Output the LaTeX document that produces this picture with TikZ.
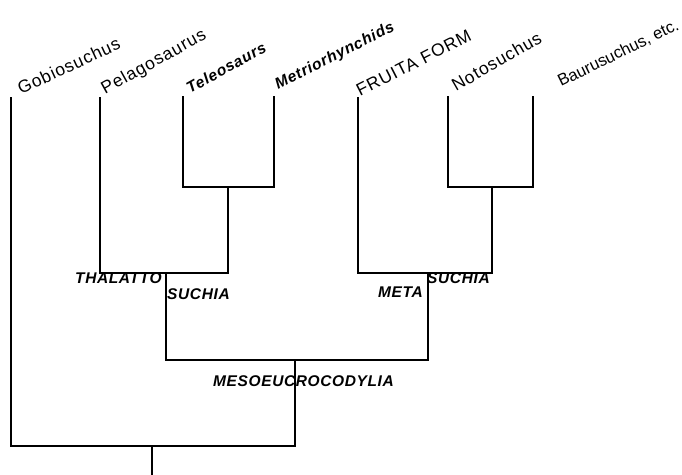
\documentclass[tikz,border=0pt]{standalone}
\usepackage{fontspec}
\setmainfont{Liberation Sans}
\begin{document}
\begin{tikzpicture}[x=1pt,y=-1pt,
  branch/.style={line width=2.6pt,line cap=rect,line join=miter},
  thinbranch/.style={line width=1.4pt},
  taxon/.style={anchor=base west,inner sep=0pt,font=\fontsize{17.5}{20}\selectfont\addfontfeatures{LetterSpace=5}},
  taxonbi/.style={anchor=base west,inner sep=0pt,font=\fontsize{15.5}{18}\selectfont\bfseries\itshape\addfontfeatures{LetterSpace=5}},
  clade/.style={anchor=base west,inner sep=0pt,font=\fontsize{15.5}{18}\selectfont\bfseries\itshape\addfontfeatures{LetterSpace=4}}]
\useasboundingbox (0,0) rectangle (682,474);
% tips
\coordinate (gob) at (11,98);
\coordinate (pel) at (100,98);
\coordinate (tel) at (183,97);
\coordinate (met) at (274,97);
\coordinate (fru) at (358,98);
\coordinate (not) at (448,97);
\coordinate (bau) at (533,97);
% internal junctions
\coordinate (tmj) at (228,187);
\coordinate (thj) at (166,273);
\coordinate (nbj) at (492,187);
\coordinate (mtj) at (428,273);
\coordinate (msj) at (295,360);
\coordinate (rtj) at (152,446);
\coordinate (root) at (152,474);
% branches
\draw[branch] (tel) -- (tel |- tmj) -- (met |- tmj) -- (met);
\draw[branch] (tmj) -- (tmj |- thj);
\draw[branch] (pel) -- (pel |- thj) -- (tmj |- thj);
\draw[branch] (thj) -- (thj |- msj);
\draw[branch] (not) -- (not |- nbj) -- (bau |- nbj) -- (bau);
\draw[branch] (nbj) -- (nbj |- mtj);
\draw[branch] (fru) -- (fru |- mtj) -- (nbj |- mtj);
\draw[branch] (mtj) -- (mtj |- msj);
\draw[branch] (thj |- msj) -- (mtj |- msj);
\draw[thinbranch] (msj) -- (msj |- rtj);
\draw[branch] (gob) -- (gob |- rtj) -- (msj |- rtj);
\draw[branch] (rtj) -- (root);
% taxon labels
\node[taxon,rotate=25] (lgob) at (21,95) {Gobiosuchus};
\node[taxon,rotate=29] (lpel) at (105,95) {Pelagosaurus};
\node[taxonbi,rotate=29] (ltel) at (190,94) {Teleosaurs};
\node[taxonbi,rotate=27] (lmet) at (278,90) {Metriorhynchids};
\node[taxon,rotate=27] (lfru) at (360,97) {FRUITA FORM};
\node[taxon,rotate=30] (lnot) at (456,92) {Notosuchus};
\node[taxon,rotate=26,font=\fontsize{16.5}{20}\selectfont] (lbau) at (561,87) {Baurusuchus, etc.};
% clade labels
\node[clade] (lthal) at (75,283) {THALATTO};
\node[clade] (lsuc1) at (167,299) {SUCHIA};
\node[clade] (lmeta) at (378,297) {META};
\node[clade] (lsuc2) at (427,283) {SUCHIA};
\node[clade] (lmeso) at (213,386) {MESOEUCROCODYLIA};
\end{tikzpicture}
\end{document}
